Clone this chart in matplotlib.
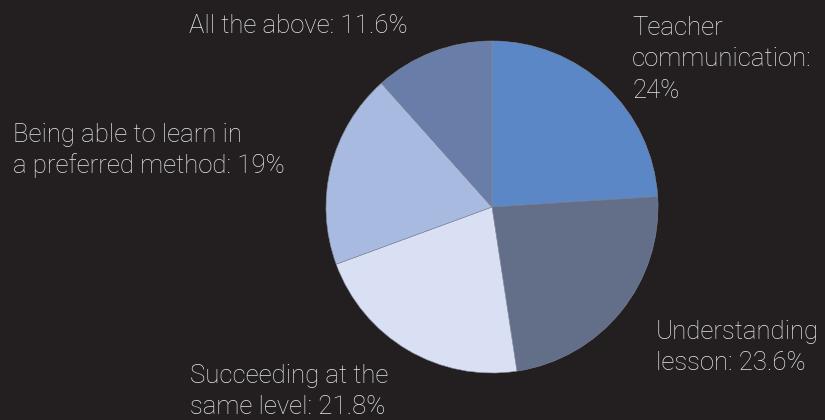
import matplotlib
matplotlib.use("Agg")
import matplotlib.pyplot as plt

# Survey shares, clockwise from 12 o'clock
labels = [
    "Teacher\ncommunication:",
    "Understanding\nlesson:",
    "Succeeding at the\nsame level:",
    "Being able to learn in\na preferred method:",
    "All the above:",
]
values = [24, 23.6, 21.8, 19, 11.6]
value_sep = ["\n", " ", " ", " ", " "]
colors = ["#5b87c7", "#636e88", "#dae0f3", "#a8badf", "#687ea8"]

# label anchor (left x, first-line baseline y) in pixels from top-left
label_pos = [(632, 35), (656, 339), (190, 383), (13, 142), (189, 33)]

W, H = 825, 420
BG = "#231f20"
TXT = "#e6e6e6"

plt.rcParams["font.family"] = ["Roboto", "DejaVu Sans"]

fig = plt.figure(figsize=(W / 100, H / 100), dpi=100, facecolor=BG)
cx, cy, r = 492, 207, 166
ax = fig.add_axes([(cx - r) / W, (H - cy - r) / H, 2 * r / W, 2 * r / H])
ax.set_facecolor(BG)

ax.pie(values, colors=colors, startangle=90, counterclock=False,
       wedgeprops=dict(linewidth=0.4, edgecolor="#7f889c"))
ax.set_xlim(-1, 1)
ax.set_ylim(-1, 1)
ax.set_aspect("equal")
ax.axis("off")

for lab, v, sep, (px, py) in zip(labels, values, value_sep, label_pos):
    text = f"{lab}{sep}{v:g}%"
    for i, line in enumerate(text.split("\n")):
        fig.text(px / W, 1 - (py + i * 31.5) / H, line, ha="left", va="baseline",
                 color=TXT, fontsize=18.5, fontweight="light")

fig.savefig("out.png", dpi=100, facecolor=BG)
